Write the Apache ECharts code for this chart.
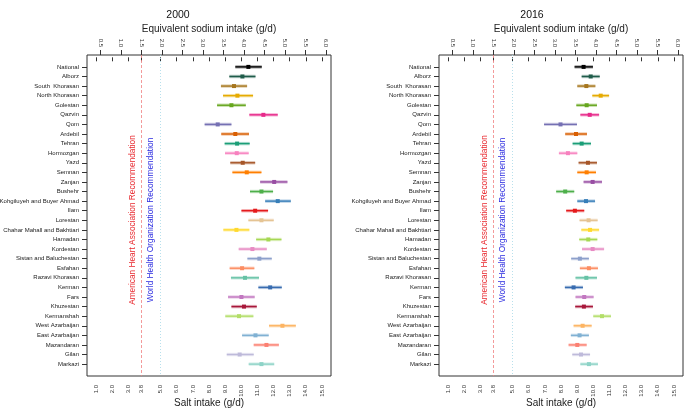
<!DOCTYPE html>
<html>
<head>
<meta charset="utf-8">
<script src="https://cdn.jsdelivr.net/npm/echarts@6/dist/echarts.min.js"></script>
<style>
html,body{margin:0;padding:0;background:#fff;}
#main{width:685px;height:408px;}
</style>
</head>
<body>
<div id="main"></div>
<script>
// provinces, top to bottom
var provinces = ['National','Alborz','South  Khorasan','North Khorasan','Golestan','Qazvin','Qom','Ardebil','Tehran','Hormozgan','Yazd','Semnan','Zanjan','Bushehr','Kohgiluyeh and Buyer Ahmad','Ilam','Lorestan','Chahar Mahall and Bakhtiari','Hamadan','Kordestan','Sistan and Baluchestan','Esfahan','Razavi Khorasan','Kerman','Fars','Khuzestan','Kermanshah','West Azarbaijan','East Azarbaijan','Mazandaran','Gilan','Markazi'];
var colors = ['#000000','#1f5c4a','#a6761d','#e6ab02','#66a61e','#e7298a','#7570b3','#d95f02','#1b9e77','#f781bf','#a65628','#ff7f00','#984ea3','#4daf4a','#377eb8','#e41a1c','#e5c494','#ffd92f','#a6d854','#e78ac3','#8da0cb','#fc8d62','#66c2a5','#386cb0','#c277c0','#a8173a','#b3de69','#fdb462','#80b1d3','#fb8072','#bebada','#8dd3c7'];

// salt intake (g/d), 2000
var mean2000 = [10.44,10.07,9.55,9.76,9.39,11.37,8.54,9.63,9.74,9.72,10.09,10.34,12.04,11.25,12.26,10.86,11.25,9.70,11.68,10.69,11.12,10.05,10.23,11.79,10.01,10.17,9.86,12.55,10.88,11.56,9.90,11.25];
var low2000  = [9.63,9.26,8.74,8.87,8.50,10.50,7.73,8.76,8.97,8.99,9.32,9.45,11.17,10.54,11.48,10.01,10.44,8.89,10.92,9.84,10.38,9.28,9.36,11.06,9.18,9.39,9.01,11.72,10.05,10.77,9.10,10.46];
var high2000 = [11.27,10.88,10.36,10.73,10.28,12.26,9.39,10.48,10.52,10.46,10.86,11.25,12.86,11.97,13.07,11.66,12.01,10.50,12.49,11.58,11.89,10.81,11.10,12.51,10.83,10.96,10.75,13.38,11.70,12.33,10.77,12.04];

// salt intake (g/d), 2016
var mean2016 = [9.40,9.84,9.57,10.46,9.59,9.78,7.97,8.93,9.28,8.43,9.67,9.59,9.96,8.26,9.55,8.86,9.71,9.80,9.69,9.96,9.17,9.73,9.57,8.78,9.44,9.42,10.54,9.34,9.15,9.01,9.24,9.73];
var low2016  = [8.84,9.28,9.01,9.94,8.95,9.20,6.95,8.26,8.72,7.87,9.09,9.01,9.40,7.70,9.01,8.32,9.15,9.26,9.13,9.30,8.63,9.17,8.90,8.24,8.90,8.88,10.00,8.78,8.61,8.47,8.70,9.20];
var high2016 = [9.98,10.40,10.13,10.98,10.23,10.36,8.99,9.61,9.86,9.01,10.23,10.17,10.54,8.82,10.11,9.44,10.27,10.36,10.25,10.67,9.73,10.29,10.23,9.36,10.02,9.98,11.10,9.90,9.73,9.59,9.80,10.29];

var saltTicks = [1.0,2.0,3.0,3.8,5.0,6.0,7.0,8.0,9.0,10.0,11.0,12.0,13.0,14.0,15.0];
var sodiumTicks = [0.5,1.0,1.5,2.0,2.5,3.0,3.5,4.0,4.5,5.0,5.5,6.0];
var rowTicks = [];
for (var i = 0; i < provinces.length; i++) rowTicks.push(i + 1);

var ahaLine = 3.8;   // American Heart Association
var whoLine = 5.0;   // World Health Organization
var saltPerSodium = 2.54;

// axis range like R (4% padding)
var xMin = 1 - 14 * 0.04, xMax = 15 + 14 * 0.04;
var nRow = provinces.length;
var yMin = 1 - (nRow - 1) * 0.04, yMax = nRow + (nRow - 1) * 0.04;

var FONT = 'Liberation Sans, Arial, sans-serif';

function makeData(m, lo, hi) {
    var d = [];
    for (var i = 0; i < provinces.length; i++) {
        d.push([m[i], lo[i], hi[i], i + 1]);
    }
    return d;
}

function renderBar(params, api) {
    var yv = api.value(3);
    var p = api.coord([api.value(0), yv]);
    var a = api.coord([api.value(1), yv]);
    var b = api.coord([api.value(2), yv]);
    var c = colors[params.dataIndex];
    return {
        type: 'group',
        children: [
            {type: 'line', shape: {x1: a[0], y1: a[1], x2: b[0], y2: b[1]},
             style: {stroke: c, lineWidth: 3.4, opacity: 0.35}},
            {type: 'line', shape: {x1: a[0], y1: a[1], x2: b[0], y2: b[1]},
             style: {stroke: c, lineWidth: 1.4}},
            {type: 'rect', shape: {x: p[0] - 2, y: p[1] - 2, width: 4, height: 4},
             style: {fill: c}}
        ]
    };
}

function saltAxis(g) {
    return {
        type: 'value', gridIndex: g, position: 'bottom', min: xMin, max: xMax,
        name: 'Salt intake (g/d)', nameLocation: 'middle', nameGap: 22, nameMoveOverlap: false,
        nameTextStyle: {fontSize: 10, color: '#222', fontFamily: FONT},
        axisLine: {show: false}, splitLine: {show: false},
        axisTick: {show: true, length: 4, customValues: saltTicks, lineStyle: {color: '#333'}},
        axisLabel: {show: true, customValues: saltTicks, rotate: 90, fontSize: 6, margin: 9,
                    color: '#333', fontFamily: FONT,
                    formatter: function (v) { return v.toFixed(1); }}
    };
}

function sodiumAxis(g) {
    return {
        type: 'value', gridIndex: g, position: 'top', min: xMin / saltPerSodium, max: xMax / saltPerSodium,
        name: 'Equivalent sodium intake (g/d)', nameLocation: 'middle', nameGap: 21, nameMoveOverlap: false,
        nameTextStyle: {fontSize: 10, color: '#222', fontFamily: FONT},
        axisLine: {show: false}, splitLine: {show: false},
        axisTick: {show: true, length: 5, customValues: sodiumTicks, lineStyle: {color: '#333'}},
        axisLabel: {show: true, customValues: sodiumTicks, rotate: 90, fontSize: 6, margin: 8,
                    color: '#333', fontFamily: FONT,
                    formatter: function (v) { return v.toFixed(1); }}
    };
}

function rowAxis(g) {
    return {
        type: 'value', gridIndex: g, inverse: true, min: yMin, max: yMax,
        axisLine: {show: false}, splitLine: {show: false},
        axisTick: {show: true, length: 5, customValues: rowTicks, lineStyle: {color: '#333'}},
        axisLabel: {show: true, customValues: rowTicks, fontSize: 6, margin: 8,
                    color: '#222', fontFamily: FONT,
                    formatter: function (v) { return provinces[Math.round(v) - 1]; }}
    };
}

function refLines() {
    return {
        silent: true, symbol: 'none', label: {show: false},
        data: [
            {xAxis: ahaLine, lineStyle: {color: '#f08080', type: [3, 2], width: 0.8}},
            {xAxis: whoLine, lineStyle: {color: '#b0dcea', type: [1, 2], width: 0.9}}
        ]
    };
}

function recText(x, txt, col) {
    return {type: 'text', x: x, y: 220, rotation: Math.PI / 2,
            style: {text: txt, fill: col, fontSize: 8.3, fontFamily: FONT,
                    align: 'center', verticalAlign: 'middle'}};
}

var chart = echarts.init(document.getElementById('main'), null, {renderer: 'canvas'});

var option = {
    animation: false,
    backgroundColor: '#fff',
    textStyle: {fontFamily: FONT},
    title: [
        {text: '2000', left: 173, top: 5, textAlign: 'center',
         textStyle: {fontSize: 10.5, fontWeight: 'normal', color: '#111', fontFamily: FONT}},
        {text: '2016', left: 527, top: 5, textAlign: 'center',
         textStyle: {fontSize: 10.5, fontWeight: 'normal', color: '#111', fontFamily: FONT}}
    ],
    grid: [
        {left: 87, top: 55, width: 244, height: 321, show: true, borderColor: '#333', borderWidth: 1,
         backgroundColor: 'transparent', containLabel: false, outerBoundsMode: 'none'},
        {left: 439, top: 55, width: 244, height: 321, show: true, borderColor: '#333', borderWidth: 1,
         backgroundColor: 'transparent', containLabel: false, outerBoundsMode: 'none'}
    ],
    xAxis: [saltAxis(0), sodiumAxis(0), saltAxis(1), sodiumAxis(1)],
    yAxis: [rowAxis(0), rowAxis(1)],
    series: [
        {type: 'custom', xAxisIndex: 0, yAxisIndex: 0, renderItem: renderBar,
         encode: {x: [0, 1, 2], y: 3}, data: makeData(mean2000, low2000, high2000),
         markLine: refLines(), z: 3},
        {type: 'custom', xAxisIndex: 2, yAxisIndex: 1, renderItem: renderBar,
         encode: {x: [0, 1, 2], y: 3}, data: makeData(mean2016, low2016, high2016),
         markLine: refLines(), z: 3}
    ],
    graphic: [
        recText(133, 'American Heart Association Recommendation', '#e8282e'),
        recText(151, 'World Health Organization Recommendation', '#2a2ae0'),
        recText(485, 'American Heart Association Recommendation', '#e8282e'),
        recText(503, 'World Health Organization Recommendation', '#2a2ae0')
    ]
};

chart.setOption(option);
</script>
</body>
</html>
